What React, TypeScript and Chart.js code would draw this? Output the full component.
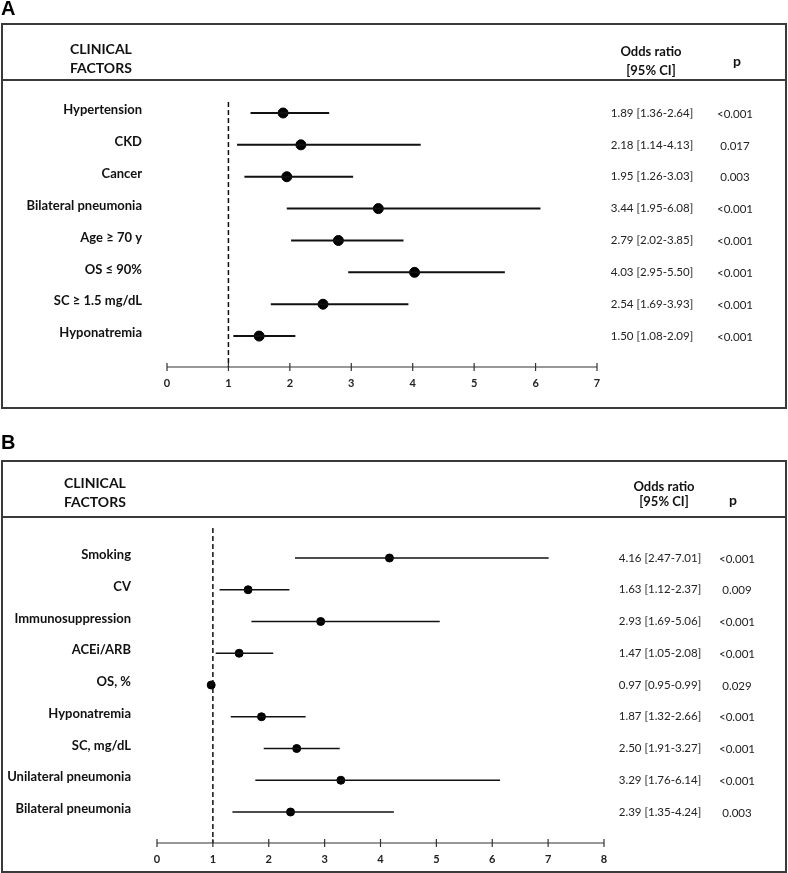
import React, { useEffect, useRef } from "react";
import { Chart, registerables } from "chart.js";

Chart.register(...registerables);

// ---------- Panel A data ----------
const A_FACTORS = [
  "Hypertension",
  "CKD",
  "Cancer",
  "Bilateral pneumonia",
  "Age \u2265 70 y",
  "OS \u2264 90%",
  "SC \u2265 1.5 mg/dL",
  "Hyponatremia",
];
const A_OR = [1.89, 2.18, 1.95, 3.44, 2.79, 4.03, 2.54, 1.5];
const A_LO = [1.36, 1.14, 1.26, 1.95, 2.02, 2.95, 1.69, 1.08];
const A_HI = [2.64, 4.13, 3.03, 6.08, 3.85, 5.5, 3.93, 2.09];
const A_P = ["<0.001", "0.017", "0.003", "<0.001", "<0.001", "<0.001", "<0.001", "<0.001"];
const A_TICKS = [0, 1, 2, 3, 4, 5, 6, 7];

// ---------- Panel B data ----------
const B_FACTORS = [
  "Smoking",
  "CV",
  "Immunosuppression",
  "ACEi/ARB",
  "OS, %",
  "Hyponatremia",
  "SC, mg/dL",
  "Unilateral pneumonia",
  "Bilateral pneumonia",
];
const B_OR = [4.16, 1.63, 2.93, 1.47, 0.97, 1.87, 2.5, 3.29, 2.39];
const B_LO = [2.47, 1.12, 1.69, 1.05, 0.95, 1.32, 1.91, 1.76, 1.35];
const B_HI = [7.01, 2.37, 5.06, 2.08, 0.99, 2.66, 3.27, 6.14, 4.24];
const B_P = ["<0.001", "0.009", "<0.001", "<0.001", "0.029", "<0.001", "<0.001", "<0.001", "0.003"];
const B_TICKS = [0, 1, 2, 3, 4, 5, 6, 7, 8];

const REF_VALUE = 1;

const FONT = "Lato, 'Open Sans', 'DejaVu Sans', sans-serif";

type PanelCfg = {
  letter: string;
  factors: string[];
  or: number[];
  lo: number[];
  hi: number[];
  p: string[];
  ticks: number[];
  width: number;
  height: number;
  pad: { left: number; right: number; top: number; bottom: number };
  yMin: number;
  yMax: number;
  box: { top: number; bottom: number; header: number };
  labelX: number;
  orX: number;
  pX: number;
  head: { clinX: number; clinY1: number; clinY2: number; orY1: number; orY2: number; orX: number; pX: number; pY: number };
  letterY: number;
  dot: number;
  lw: number;
};

function fmt(v: number) {
  return v.toFixed(2);
}

function makeChart(canvas: HTMLCanvasElement, c: PanelCfg) {
  const datasets: any[] = [];
  // reference dashed line at OR = 1
  datasets.push({
    type: "line",
    data: [
      { x: REF_VALUE, y: c.yMin },
      { x: REF_VALUE, y: c.yMax },
    ],
    borderColor: "#111",
    borderWidth: 1.5,
    borderDash: [5, 3],
    pointRadius: 0,
  });
  // CI lines
  c.factors.forEach((_, i) => {
    datasets.push({
      type: "line",
      data: [
        { x: c.lo[i], y: i },
        { x: c.hi[i], y: i },
      ],
      borderColor: "#111",
      borderWidth: c.lw,
      pointRadius: 0,
    });
  });
  // point estimates
  datasets.push({
    type: "scatter",
    data: c.or.map((v, i) => ({ x: v, y: i })),
    backgroundColor: "#000",
    borderColor: "#000",
    pointRadius: c.dot,
    pointHoverRadius: c.dot,
  });

  const deco = {
    id: "deco" + c.letter,
    afterDraw(chart: any) {
      const ctx = chart.ctx as CanvasRenderingContext2D;
      const xs = chart.scales.x;
      const ys = chart.scales.y;
      const area = chart.chartArea;
      ctx.save();
      // panel letter
      ctx.fillStyle = "#000";
      ctx.font = "bold 20px 'Liberation Sans', Arial, sans-serif";
      ctx.textAlign = "left";
      ctx.textBaseline = "middle";
      ctx.fillText(c.letter, 1, c.letterY);
      // box
      ctx.strokeStyle = "#3a3a3a";
      ctx.lineWidth = 2;
      ctx.strokeRect(2, c.box.top, c.width - 4, c.box.bottom - c.box.top);
      ctx.beginPath();
      ctx.moveTo(2, c.box.header);
      ctx.lineTo(c.width - 2, c.box.header);
      ctx.stroke();
      // headers
      ctx.fillStyle = "#111";
      ctx.font = `bold 14px ${FONT}`;
      ctx.textAlign = "left";
      ctx.fillText("CLINICAL", c.head.clinX, c.head.clinY1);
      ctx.fillText("FACTORS", c.head.clinX, c.head.clinY2);
      ctx.font = `bold 13px ${FONT}`;
      ctx.textAlign = "center";
      ctx.fillText("Odds ratio", c.head.orX, c.head.orY1);
      ctx.fillText("[95% CI]", c.head.orX, c.head.orY2);
      ctx.font = `bold 14px ${FONT}`;
      ctx.fillText("p", c.head.pX, c.head.pY);
      // rows
      c.factors.forEach((f, i) => {
        const y = ys.getPixelForValue(i);
        ctx.font = `bold 13px ${FONT}`;
        ctx.textAlign = "right";
        ctx.fillStyle = "#111";
        ctx.fillText(f, c.labelX, y - 3);
        ctx.font = `11.5px ${FONT}`;
        ctx.textAlign = "center";
        ctx.fillStyle = "#222";
        ctx.fillText(`${fmt(c.or[i])} [${fmt(c.lo[i])}-${fmt(c.hi[i])}]`, c.orX, y);
        ctx.fillText(c.p[i], c.pX, y + 1);
      });
      // x axis line with crossing ticks
      const x0 = xs.getPixelForValue(c.ticks[0]);
      const x1 = xs.getPixelForValue(c.ticks[c.ticks.length - 1]);
      const yb = area.bottom;
      ctx.strokeStyle = "#333";
      ctx.lineWidth = 1.2;
      ctx.beginPath();
      ctx.moveTo(x0, yb);
      ctx.lineTo(x1, yb);
      c.ticks.forEach((t) => {
        const px = xs.getPixelForValue(t);
        ctx.moveTo(px, yb - 4);
        ctx.lineTo(px, yb + 4);
      });
      ctx.stroke();
      ctx.restore();
    },
  };

  return new Chart(canvas, {
    type: "scatter",
    data: { datasets },
    options: {
      animation: false,
      responsive: false,
      maintainAspectRatio: false,
      events: [],
      layout: { padding: c.pad },
      plugins: { legend: { display: false }, tooltip: { enabled: false } },
      scales: {
        x: {
          type: "linear",
          min: c.ticks[0],
          max: c.ticks[c.ticks.length - 1],
          afterBuildTicks: (scale: any) => {
            scale.ticks = c.ticks.map((v) => ({ value: v }));
          },
          afterFit: (scale: any) => {
            scale.height = 30;
          },
          grid: { display: false, drawTicks: false },
          border: { display: false },
          ticks: {
            padding: 10,
            color: "#222",
            font: { family: FONT, size: 11, weight: "bold" },
            maxRotation: 0,
            autoSkip: false,
          },
        },
        y: {
          type: "linear",
          display: false,
          reverse: true,
          min: c.yMin,
          max: c.yMax,
        },
      },
    },
    plugins: [deco],
  } as any);
}

const PANEL_A: PanelCfg = {
  letter: "A",
  factors: A_FACTORS,
  or: A_OR,
  lo: A_LO,
  hi: A_HI,
  p: A_P,
  ticks: A_TICKS,
  width: 788,
  height: 420,
  pad: { left: 167, right: 191, top: 102, bottom: 23 },
  yMin: -0.345,
  yMax: 7.97,
  box: { top: 24, bottom: 408, header: 80 },
  labelX: 142,
  orX: 652,
  pX: 735,
  head: { clinX: 70, clinY1: 49, clinY2: 68, orX: 651, orY1: 52, orY2: 71, pX: 737, pY: 61 },
  letterY: 9,
  dot: 5,
  lw: 2,
};

const PANEL_B: PanelCfg = {
  letter: "B",
  factors: B_FACTORS,
  or: B_OR,
  lo: B_LO,
  hi: B_HI,
  p: B_P,
  ticks: B_TICKS,
  width: 788,
  height: 453,
  pad: { left: 157, right: 184, top: 108, bottom: 0 },
  yMin: -0.945,
  yMax: 8.976,
  box: { top: 41, bottom: 452, header: 97 },
  labelX: 131,
  orX: 660,
  pX: 737,
  head: { clinX: 64, clinY1: 63, clinY2: 82, orX: 664, orY1: 67, orY2: 82, pX: 733, pY: 80 },
  letterY: 23,
  dot: 4,
  lw: 1.5,
};

function Panel({ cfg, top }: { cfg: PanelCfg; top: number }) {
  const ref = useRef<HTMLCanvasElement | null>(null);
  useEffect(() => {
    if (!ref.current) return;
    const ch = makeChart(ref.current, cfg);
    return () => ch.destroy();
  }, [cfg]);
  return (
    <canvas
      ref={ref}
      width={cfg.width}
      height={cfg.height}
      style={{ position: "absolute", left: 0, top, width: cfg.width, height: cfg.height, display: "block" }}
    />
  );
}

export default function App() {
  return (
    <div style={{ position: "absolute", left: 0, top: 0, width: 788, height: 873, background: "#fff" }}>
      <Panel cfg={PANEL_A} top={0} />
      <Panel cfg={PANEL_B} top={420} />
    </div>
  );
}
